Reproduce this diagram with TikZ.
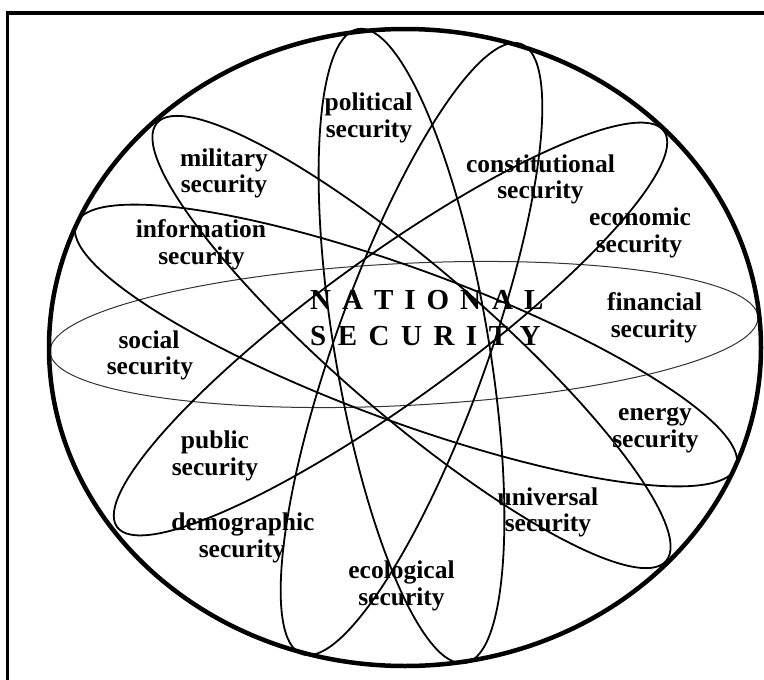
\documentclass[tikz,border=0pt]{standalone}
\usepackage{fontspec}
\setmainfont{Liberation Serif}
\begin{document}
\begin{tikzpicture}[x=1pt,y=-1pt,
  orb/.style={line width=1.8pt},
  thinorb/.style={line width=1pt, draw=black!80},
  lab/.style={font=\fontsize{25.5}{27}\selectfont\bfseries, inner sep=0pt, anchor=base},
  title/.style={font=\fontsize{29}{36}\selectfont\bfseries, inner sep=0pt, anchor=base west}]
\useasboundingbox (0,0) rectangle (764,680);
\clip (0,0) rectangle (764,680);
\fill[white] (0,0) rectangle (764,680);
% frame
\draw[line width=3.5pt] (7.5,13) rectangle (800,720);
% thin horizontal ellipse (social - financial)
\draw[thinorb, rotate around={2.83:(404,334.5)}] (404,334.5) ellipse [x radius=354.4pt, y radius=71pt];
% political - ecological
\draw[orb, rotate around={-80.42:(411.5,346)}] (411.5,346) ellipse [x radius=321.5pt, y radius=77pt];
% constitutional - demographic
\draw[orb, rotate around={70.25:(411.5,349)}] (411.5,349) ellipse [x radius=324.1pt, y radius=76pt];
% military - universal
\draw[orb, rotate around={-40.71:(411.5,342)}] (411.5,342) ellipse [x radius=335.8pt, y radius=74pt];
% economic - public
\draw[orb, rotate around={35.90:(390.5,329)}] (390.5,329) ellipse [x radius=337.6pt, y radius=72pt];
% information - energy
\draw[orb, rotate around={-20.21:(406,345.5)}] (406,345.5) ellipse [x radius=351.7pt, y radius=76pt];
% outer ellipse
\draw[line width=4.5pt] (405,347.5) ellipse [x radius=356pt, y radius=318.5pt];
% title
\node[title] (nat) at (310,309) {N\kern11pt A\kern11pt T\kern11pt I\kern11pt O\kern11pt N\kern11pt A\kern11pt L};
\node[title] (sec) at (310,345) {S\kern11.5pt E\kern11.5pt C\kern11.5pt U\kern11.5pt R\kern11.5pt I\kern11.5pt T\kern11.5pt Y};
% labels
\node[lab] (pol1) at (368.5,110) {political};
\node[lab] (pol2) at (369,137) {security};
\node[lab] (mil1) at (224,166) {military};
\node[lab] (mil2) at (224,192) {security};
\node[lab] (con1) at (540.5,172) {constitutional};
\node[lab] (con2) at (540.5,198) {security};
\node[lab] (eco1) at (640,225) {economic};
\node[lab] (eco2) at (639,252) {security};
\node[lab] (inf1) at (201,237) {information};
\node[lab] (inf2) at (201.5,264) {security};
\node[lab] (soc1) at (149,348) {social};
\node[lab] (soc2) at (150,374) {security};
\node[lab] (fin1) at (654.5,310) {financial};
\node[lab] (fin2) at (654,337) {security};
\node[lab] (ene1) at (655,420) {energy};
\node[lab] (ene2) at (655.5,447) {security};
\node[lab] (pub1) at (215,448) {public};
\node[lab] (pub2) at (215,475) {security};
\node[lab] (dem1) at (243,530) {demographic};
\node[lab] (dem2) at (242,557) {security};
\node[lab] (uni1) at (548,505) {universal};
\node[lab] (uni2) at (548,531) {security};
\node[lab] (ecl1) at (401.5,578) {ecological};
\node[lab] (ecl2) at (401.5,605) {security};
\end{tikzpicture}
\end{document}
